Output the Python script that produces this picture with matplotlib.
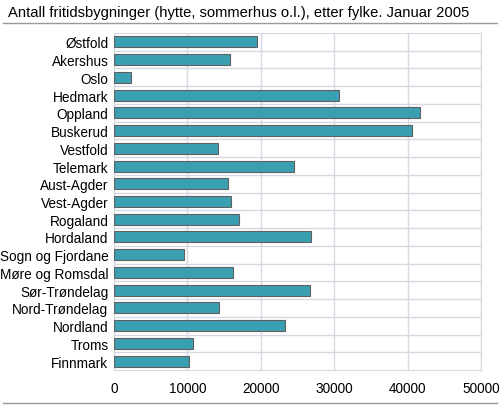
import matplotlib
matplotlib.use('Agg')
import matplotlib.pyplot as plt
from matplotlib.lines import Line2D

plt.rcParams['font.family'] = ['Liberation Sans', 'DejaVu Sans']

fylker = ['Østfold', 'Akershus', 'Oslo', 'Hedmark', 'Oppland', 'Buskerud',
          'Vestfold', 'Telemark', 'Aust-Agder', 'Vest-Agder', 'Rogaland',
          'Hordaland', 'Sogn og Fjordane', 'Møre og Romsdal', 'Sør-Trøndelag',
          'Nord-Trøndelag', 'Nordland', 'Troms', 'Finnmark']
antall = [19500, 15800, 2350, 30600, 41700, 40600,
          14200, 24500, 15500, 15900, 17000,
          26800, 9500, 16250, 26650,
          14350, 23300, 10700, 10200]
x_ticks = [0, 10000, 20000, 30000, 40000, 50000]

fig = plt.figure(figsize=(5, 4.06), dpi=100)
ax = fig.add_axes([0.228, 0.0862, 0.734, 0.830])

pos = list(range(len(fylker)))
ax.barh(pos, antall, height=0.62, color='#3a9fb1', edgecolor='#606060',
        linewidth=0.8, zorder=3)

ax.set_ylim(len(fylker) - 0.5, -0.5)
ax.set_xlim(0, 50000)
ax.set_yticks(pos)
ax.set_yticklabels(fylker, fontsize=9.8)
ax.set_xticks(x_ticks)
ax.set_xticklabels([str(t) for t in x_ticks], fontsize=9.8)

# rutenett mellom radene og ved x-verdiene
ax.set_yticks([p + 0.5 for p in pos[:-1]], minor=True)
ax.grid(True, axis='x', color='#d8d8e2', linewidth=1, zorder=0)
ax.grid(True, axis='y', which='minor', color='#d8d8e2', linewidth=1, zorder=0)
ax.tick_params(axis='both', which='both', length=0)
ax.tick_params(axis='y', pad=4)
ax.tick_params(axis='x', pad=8)
for s in ax.spines.values():
    s.set_color('#d8d8e2')

fig.text(0.016, 0.968, 'Antall fritidsbygninger (hytte, sommerhus o.l.), etter fylke. Januar 2005',
         fontsize=10.6, ha='left', va='center')
fig.add_artist(Line2D([0.006, 0.994], [0.941, 0.941], color='#999999', linewidth=1))
fig.add_artist(Line2D([0.006, 0.994], [0.005, 0.005], color='#999999', linewidth=1))

fig.savefig('out.png', dpi=100)
